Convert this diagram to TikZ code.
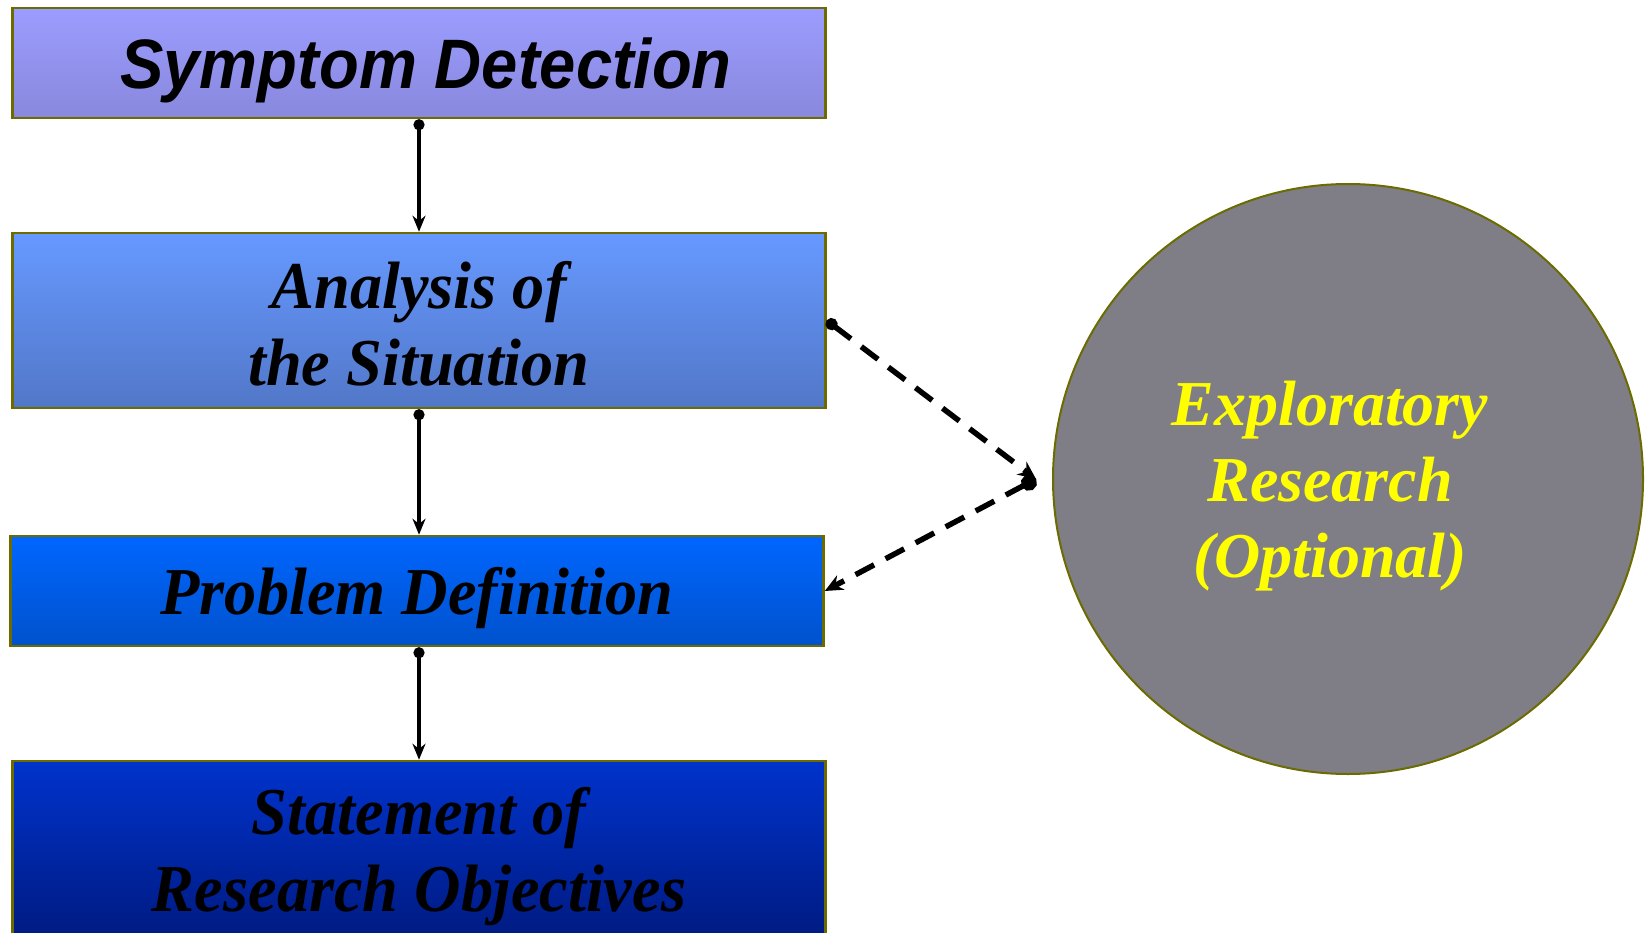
\documentclass[tikz,border=0pt]{standalone}
\usepackage{fontspec}
\usepackage{graphicx}
\setmainfont{Liberation Serif}
\newfontfamily\sansfam{Liberation Sans}
\usetikzlibrary{arrows.meta}
\definecolor{bd}{HTML}{6B6B00}
\definecolor{c1t}{HTML}{9C9CFF}
\definecolor{c1b}{HTML}{8888DD}
\definecolor{c2t}{HTML}{6699FF}
\definecolor{c2b}{HTML}{5277C8}
\definecolor{c3t}{HTML}{0066FF}
\definecolor{c3b}{HTML}{0052CC}
\definecolor{c4t}{HTML}{0033CC}
\definecolor{c4b}{HTML}{001A80}
\definecolor{circfill}{HTML}{7F7D86}
\definecolor{yel}{HTML}{FFFF00}
\newcommand{\cnd}[1]{\scalebox{0.96}[1]{#1}}
\begin{document}
\begin{tikzpicture}[x=1pt,y=-1pt,
  box/.style={draw=bd, line width=2.5pt, minimum width=813pt, inner sep=0pt},
  ttl/.style={align=center, text=black, inner sep=0pt, font=\fontsize{67}{77}\selectfont\bfseries\itshape},
  flow/.style={line width=3.5pt, {Circle[length=11pt]}-{Stealth[length=16pt,width=13pt]}},
  dflow/.style={line width=5.5pt, dash pattern=on 21pt off 13pt},
]
\useasboundingbox (0,0) rectangle (1648,933);
\node[box, minimum height=110pt, top color=c1t, bottom color=c1b] (b1) at (419,63) {};
\node[box, minimum height=175pt, top color=c2t, bottom color=c2b] (b2) at (419,320.5) {};
\node[box, minimum height=110pt, top color=c3t, bottom color=c3b] (b3) at (417,591) {};
\node[box, minimum height=180pt, top color=c4t, bottom color=c4b] (b4) at (419,851) {};
\node[inner sep=0pt, text=black, font=\sansfam\fontsize{70}{77}\selectfont\bfseries\itshape] (t1) at (426,70)
  {\scalebox{0.93}[1]{Symptom Detection}};
\node[ttl] (t2) at (419,324) {\cnd{Analysis of}\\\cnd{the Situation}};
\node[ttl] (t3) at (417,598) {\cnd{Problem Definition}};
\node[ttl] (t4) at (419,857) {\cnd{Statement of}\\\cnd{Research Objectives}};
\node[circle, draw=bd, line width=2pt, fill=circfill, minimum size=590pt, inner sep=0pt] (er) at (1348,479) {};
\node[align=center, text=yel, inner sep=0pt, font=\fontsize{64}{76}\selectfont\bfseries\itshape] (te) at (1330,486)
  {Exploratory\\Research\\(Optional)};
\coordinate (j) at ([xshift=-16pt]er.west);
\draw[flow] (b1.south) -- (b2.north);
\draw[flow] (b2.south) -- (b3.north -| b2.south);
\draw[flow] (b3.south -| b1.south) -- (b4.north);
\draw[dflow, {Circle[length=12pt]}-{Stealth[length=18pt,width=16pt]}] (b2.east) -- (j);
\draw[dflow, {Circle[length=16pt]}-{Stealth[length=18pt,width=16pt]}] (j) -- (b3.east);
\end{tikzpicture}
\end{document}
